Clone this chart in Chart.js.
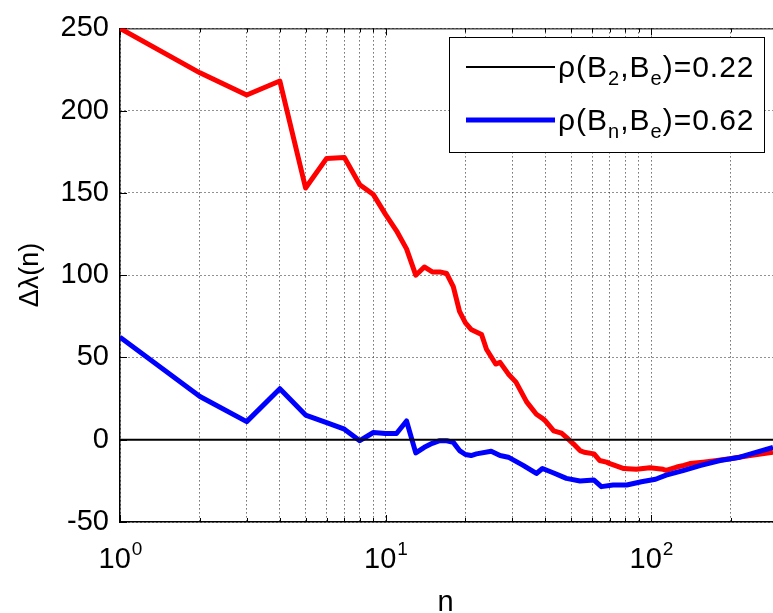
<!DOCTYPE html>
<html>
<head>
<meta charset="utf-8">
<script src="https://cdn.jsdelivr.net/npm/chart.js@4.4.1/dist/chart.umd.min.js"></script>
<style>
    html, body { margin: 0; padding: 0; background: #fff; overflow: hidden; }
    #wrap { width: 773px; height: 613px; position: relative; }
</style>
</head>
<body>
<div id="wrap"><canvas id="chart" width="773" height="613"></canvas></div>
<script>
// Red curve (no legend entry)
const redN = [1, 2, 3, 4, 5, 6, 7, 8, 9, 10, 11, 12, 13, 14, 15, 16, 17, 18, 19, 20,
    21, 23, 24, 26, 27, 29, 31, 34, 37, 39, 40, 43, 46, 48, 51, 54, 56, 61, 64, 68,
    70, 79, 88, 99, 111, 114, 125, 133, 140, 157, 177, 198, 236, 288];
const redVals = [250, 223, 209.5, 218, 153, 171, 171.5, 155, 149, 137, 127, 116, 100, 105, 102, 102, 101, 93, 78, 71,
    67, 64, 55, 46, 47, 40, 35, 23, 15.5, 13, 11.4, 5.4, 4, 1.4, -2.5, -6.6, -7.6, -8.6, -12.6, -13.6,
    -14.5, -17.5, -18, -17, -18, -18.6, -16.6, -15.6, -14.5, -13.6, -12.6, -11.6, -9.6, -7.6];

// Blue curve: rho(Bn,Be)=0.62
const blueN = [1, 2, 3, 4, 5, 6, 7, 8, 9, 10, 11, 12, 13, 14, 15, 16, 17, 18, 19, 20,
    21, 22, 25, 27, 29, 33, 37, 39, 43, 48, 54, 61, 65, 72, 81, 92, 104, 114, 133, 154,
    182, 216, 288];
const blueVals = [62.3, 26.3, 11, 31, 15, 10.4, 6.4, -0.6, 4.4, 3.8, 3.8, 11.4, -8, -4.6, -2.2, -0.6, -0.6, -1.6, -6.6, -9,
    -9.6, -8.6, -7, -9.6, -10.6, -15.6, -20.5, -17.5, -20.2, -23.5, -25.1, -24.5, -28.5, -27.5, -27.5, -25.5, -24, -21.5, -18.6, -15.6,
    -12.6, -10.6, -4.6];

// Black line: rho(B2,Be)=0.22
const blackN = [1, 288];
const blackVals = [0, 0];

// Axes
const xMin = 1, xMax = 288;
const xGridValues = [1, 2, 3, 4, 5, 6, 7, 8, 9, 10, 20, 30, 40, 50, 60, 70, 80, 90, 100, 200];
const xLabelExps = ['0', '1', '2'];
const yMin = -50, yMax = 250, yStep = 50;

const legendRows = [
    { color: '#000000', width: 2, parts: [['ρ(B', 0], ['2', 1], [',B', 0], ['e', 1], [')=0.22', 0]] },
    { color: '#0000ff', width: 5, parts: [['ρ(B', 0], ['n', 1], [',B', 0], ['e', 1], [')=0.62', 0]] }
];

const FONT = "'Liberation Sans', Arial, Helvetica, sans-serif";

const toPoints = (ns, vs) => ns.map((n, i) => ({ x: n, y: vs[i] }));

const overlay = {
    id: 'overlay',
    beforeDatasetsDraw(chart) {
        const { ctx, chartArea: a, scales: { x, y } } = chart;
        ctx.save();
        ctx.strokeStyle = '#000';
        ctx.lineWidth = 1;
        // top box edge
        ctx.beginPath();
        ctx.moveTo(a.left, a.top + 0.5);
        ctx.lineTo(a.right, a.top + 0.5);
        ctx.stroke();
        // inward tick marks
        ctx.beginPath();
        xGridValues.forEach(v => {
            const px = Math.round(x.getPixelForValue(v)) + 0.5;
            const len = [1, 10, 100].includes(v) ? 7 : 4;
            ctx.moveTo(px, a.bottom);
            ctx.lineTo(px, a.bottom - len);
            ctx.moveTo(px, a.top);
            ctx.lineTo(px, a.top + len);
        });
        for (let v = yMin; v <= yMax; v += yStep) {
            const py = Math.round(y.getPixelForValue(v)) + 0.5;
            ctx.moveTo(a.left, py);
            ctx.lineTo(a.left + 7, py);
        }
        ctx.stroke();
        ctx.restore();
    },
    afterDraw(chart) {
        const { ctx, chartArea: a, scales: { x } } = chart;
        ctx.save();
        ctx.fillStyle = '#000';
        ctx.textBaseline = 'alphabetic';
        ctx.textAlign = 'left';

        // x tick labels 10^k
        xLabelExps.forEach(e => {
            const px = x.getPixelForValue(Math.pow(10, Number(e)));
            ctx.font = `29px ${FONT}`;
            const wb = ctx.measureText('10').width;
            ctx.font = `19px ${FONT}`;
            const we = ctx.measureText(e).width;
            const x0 = px - (wb + we) / 2;
            ctx.font = `29px ${FONT}`;
            ctx.fillText('10', x0, a.bottom + 46);
            ctx.font = `19px ${FONT}`;
            ctx.fillText(e, x0 + wb + 1, a.bottom + 33);
        });

        // axis titles
        ctx.font = `29px ${FONT}`;
        ctx.textAlign = 'center';
        ctx.fillText('n', (a.left + 773) / 2 - 1, 611);
        ctx.save();
        ctx.translate(38, 275);
        ctx.rotate(-Math.PI / 2);
        ctx.font = `27px ${FONT}`;
        ctx.fillText('Δλ(n)', 0, 0);
        ctx.restore();

        // legend box
        const bx = 449, by = 37, bw = 315, bh = 115;
        ctx.fillStyle = '#fff';
        ctx.fillRect(bx, by, bw, bh);
        ctx.strokeStyle = '#000';
        ctx.lineWidth = 1;
        ctx.strokeRect(bx + 0.5, by + 0.5, bw, bh);
        ctx.textAlign = 'left';
        ctx.letterSpacing = '1px';
        legendRows.forEach((row, i) => {
            const ly = 67 + i * 53;
            ctx.strokeStyle = row.color;
            ctx.lineWidth = row.width;
            ctx.beginPath();
            ctx.moveTo(466, ly);
            ctx.lineTo(555, ly);
            ctx.stroke();
            ctx.fillStyle = '#000';
            let tx = 558;
            row.parts.forEach(([t, sub]) => {
                ctx.font = sub ? `20px ${FONT}` : `30px ${FONT}`;
                ctx.fillText(t, tx, ly + (sub ? 18 : 10));
                tx += ctx.measureText(t).width;
            });
        });
        ctx.restore();
    }
};

new Chart(document.getElementById('chart'), {
    type: 'line',
    data: {
        datasets: [
            {
                data: toPoints(blackN, blackVals),
                borderColor: '#000000',
                borderWidth: 2,
                pointRadius: 0,
                tension: 0
            },
            {
                data: toPoints(blueN, blueVals),
                borderColor: '#0000ff',
                borderWidth: 5,
                pointRadius: 0,
                tension: 0,
                borderJoinStyle: 'round'
            },
            {
                data: toPoints(redN, redVals),
                borderColor: '#ff0000',
                borderWidth: 5,
                pointRadius: 0,
                tension: 0,
                borderJoinStyle: 'round'
            }
        ]
    },
    options: {
        responsive: false,
        animation: false,
        layout: { padding: { top: 21, right: 0, left: 0, bottom: 0 } },
        plugins: {
            legend: { display: false },
            tooltip: { enabled: false }
        },
        scales: {
            x: {
                type: 'logarithmic',
                min: xMin,
                max: xMax,
                afterBuildTicks: scale => {
                    scale.ticks = xGridValues.map(v => ({ value: v }));
                },
                afterFit: scale => { scale.height = 91; },
                ticks: { display: false },
                grid: { color: '#222', lineWidth: 1, drawTicks: false },
                border: { display: true, color: '#000', width: 1.5, dash: [1, 3] }
            },
            y: {
                min: yMin,
                max: yMax,
                afterFit: scale => { scale.width = 120; },
                ticks: {
                    stepSize: yStep,
                    color: '#000',
                    padding: 11,
                    font: { family: FONT, size: 29 }
                },
                grid: { color: '#222', lineWidth: 1, drawTicks: false },
                border: { display: true, color: '#000', width: 1.5, dash: [1, 3] }
            }
        }
    },
    plugins: [overlay]
});
</script>
</body>
</html>
